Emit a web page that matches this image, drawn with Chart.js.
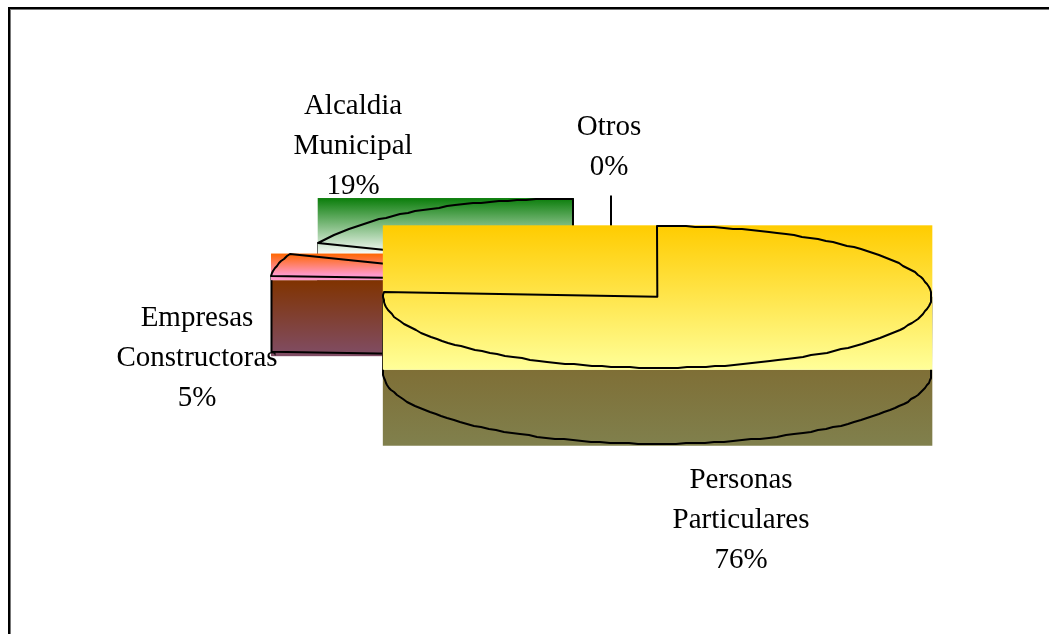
<!DOCTYPE html>
<html>
<head>
<meta charset="utf-8">
<script src="https://cdn.jsdelivr.net/npm/chart.js@4"></script>
<style>
  html, body { margin: 0; padding: 0; background: #fff; overflow: hidden; }
  #wrap { position: relative; width: 1049px; height: 634px; }
  #frame { position: absolute; left: 8px; top: 7px; width: 1100px; height: 700px; border: 2px solid #000; box-shadow: inset 1px 1px 0 #777; }
  canvas { position: absolute; left: 0; top: 0; }
</style>
</head>
<body>
<div id="wrap">
  <div id="frame"></div>
  <canvas id="pie" width="1049" height="634"></canvas>
</div>
<script>
// ── DATA ────────────────────────────────────────────
const categories = ['Personas Particulares', 'Empresas Constructoras', 'Alcaldia Municipal', 'Otros'];
const shares = [76, 5, 19, 0];
const labelLines = [
  ['Personas', 'Particulares', '76%'],
  ['Empresas', 'Constructoras', '5%'],
  ['Alcaldia', 'Municipal', '19%'],
  ['Otros', '0%']
];

// ── STYLE ───────────────────────────────────────────
const topColors = [
  ['#ffcc00', '#ffff99'],
  ['#ff6600', '#ff99cc'],
  ['#0a7d0a', '#ffffff'],
  ['#000000', '#000000']
];
const sideColors = [
  ['#7f6f36', '#80804d'],
  ['#803300', '#804d66'],
  ['#053f05', '#808080'],
  ['#000000', '#000000']
];
const topStops = [1, 0.8, 0.8, 1];
const labelPos = [[741, 480], [197, 318], [353, 106], [609, 127]];
const SQUASH = 0.259;    // 3D tilt, height of the ellipse against its width
const EXPLODE = 0.247;   // slice pull-out, share of the radius
const DEPTH = 76;        // height of the side wall
const LINE_H = 40;

// ── 3D PIE PLUGIN ───────────────────────────────────
function sliceGeom(arc) {
  const rx = arc.outerRadius, ry = rx * SQUASH;
  const mid = (arc.startAngle + arc.endAngle) / 2;
  const cx = arc.x + Math.cos(mid) * EXPLODE * rx;
  const cy = arc.y + Math.sin(mid) * EXPLODE * ry;
  // bounding box of the top face
  const xs = [cx], ys = [cy];
  const add = a => { xs.push(cx + rx * Math.cos(a)); ys.push(cy + ry * Math.sin(a)); };
  add(arc.startAngle);
  add(arc.endAngle);
  for (let k = -4; k <= 8; k++) {
    const a = k * Math.PI / 2;
    if (a > arc.startAngle && a < arc.endAngle) add(a);
  }
  const y1 = Math.max(...ys);
  return {
    rx, ry, cx, cy, start: arc.startAngle, end: arc.endAngle,
    x0: Math.min(...xs) - 0.5, x1: Math.max(...xs) + 1,
    y0: Math.min(...ys) - 0.5,
    y1: y1 > cy + 1 ? y1 + 2 : y1   // rim slices leave a small gap under the box
  };
}

function vGrad(ctx, y0, y1, colors, stop) {
  const g = ctx.createLinearGradient(0, y0, 0, y1);
  g.addColorStop(0, colors[0]);
  g.addColorStop(stop, colors[1]);
  if (stop < 1) g.addColorStop(1, colors[1]);
  return g;
}

// the original outline is a coarse polyline, not a true curve
function arcPoints(ctx, s, from, to, dy) {
  const n = Math.max(2, Math.ceil((to - from) / (Math.PI / 90)));
  for (let k = 0; k <= n; k++) {
    const a = from + (to - from) * k / n;
    const x = s.cx + s.rx * Math.cos(a);
    const y = s.cy + dy + s.ry * Math.sin(a);
    ctx.lineTo(Math.round(x), Math.round(y));
  }
}

function sideOutline(ctx, s) {
  const from = Math.max(s.start, 0), to = Math.min(s.end, Math.PI);
  ctx.beginPath();
  if (from < to) {
    // front part of the rim with its two ends
    ctx.moveTo(s.cx + s.rx * Math.cos(from), s.cy + s.ry * Math.sin(from));
    arcPoints(ctx, s, from, to, DEPTH);
    ctx.lineTo(s.cx + s.rx * Math.cos(to), s.cy + s.ry * Math.sin(to));
  } else {
    // slice behind the front: only the cut face shows
    const x = s.cx + s.rx * Math.cos(s.start), y = s.cy + s.ry * Math.sin(s.start);
    ctx.moveTo(x, y);
    ctx.lineTo(x, y + DEPTH);
    ctx.lineTo(s.cx, s.cy + DEPTH);
  }
  ctx.stroke();
}

function topOutline(ctx, s) {
  ctx.beginPath();
  ctx.moveTo(s.cx, s.cy);
  arcPoints(ctx, s, s.start, s.end, 0);
  ctx.closePath();
  ctx.stroke();
}

const pie3d = {
  id: 'pie3d',
  afterDatasetsDraw(chart) {
    const ctx = chart.ctx;
    const arcs = chart.getDatasetMeta(0).data;
    ctx.save();
    ctx.lineWidth = 2;
    ctx.strokeStyle = '#000';
    ctx.lineJoin = 'round';
    // back to front
    [3, 2, 1, 0].forEach(i => {
      const s = sliceGeom(arcs[i]);
      if (shares[i] === 0) {
        // empty slice, only its edge shows
        ctx.beginPath();
        ctx.moveTo(s.cx, s.cy);
        ctx.lineTo(s.cx, s.cy - s.ry);
        ctx.stroke();
        return;
      }
      ctx.fillStyle = vGrad(ctx, s.y1, s.y1 + DEPTH, sideColors[i], 1);
      ctx.fillRect(s.x0, s.y1, s.x1 - s.x0, DEPTH);
      sideOutline(ctx, s);
      ctx.fillStyle = vGrad(ctx, s.y0, s.y1, topColors[i], topStops[i]);
      ctx.fillRect(s.x0, s.y0, s.x1 - s.x0, s.y1 - s.y0);
      topOutline(ctx, s);
    });
    // labels go over everything
    ctx.fillStyle = '#000';
    ctx.font = '29px "Liberation Serif"';
    ctx.textAlign = 'center';
    ctx.textBaseline = 'middle';
    labelLines.forEach((lines, i) => {
      lines.forEach((t, n) => ctx.fillText(t, labelPos[i][0], labelPos[i][1] + n * LINE_H));
    });
    ctx.restore();
  }
};

// ── CHART ───────────────────────────────────────────
new Chart(document.getElementById('pie'), {
  type: 'pie',
  data: {
    labels: categories,
    datasets: [{
      data: shares,
      backgroundColor: 'rgba(0,0,0,0)',
      borderWidth: 0
    }]
  },
  options: {
    responsive: false,
    animation: false,
    layout: { padding: { left: 337, right: 164, top: 10, bottom: 76 } },
    plugins: { legend: { display: false }, tooltip: { enabled: false } }
  },
  plugins: [pie3d]
});
</script>
</body>
</html>
